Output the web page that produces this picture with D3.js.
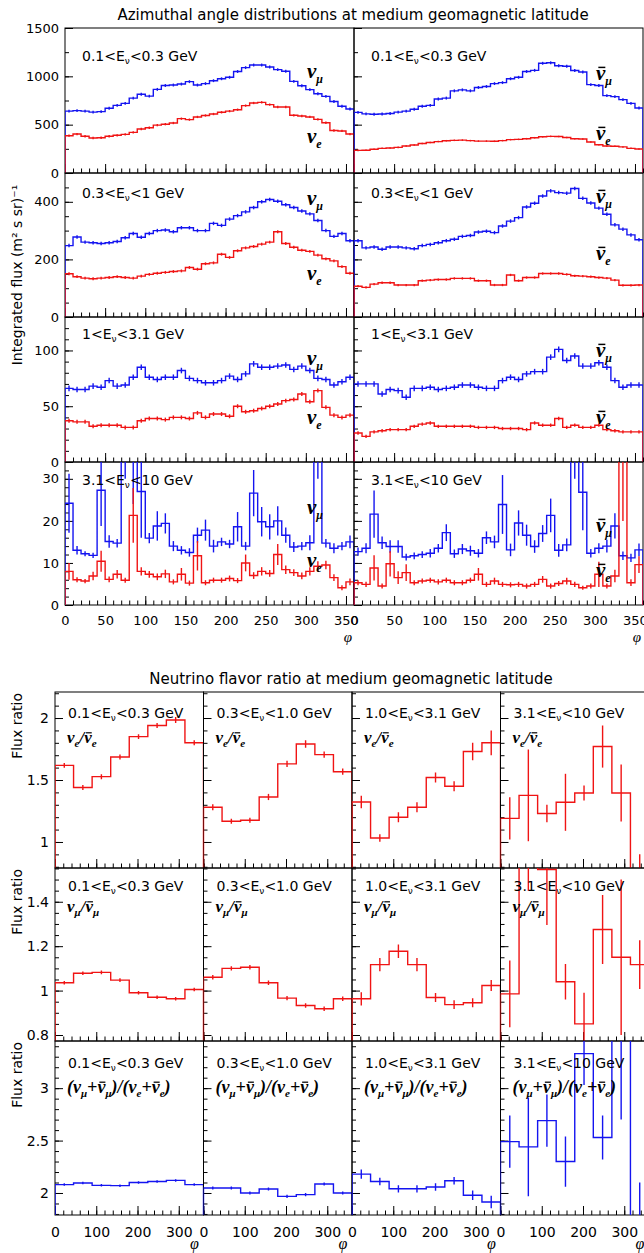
<!DOCTYPE html>
<html>
<head>
<meta charset="utf-8">
<script src="https://cdn.jsdelivr.net/npm/d3@7"></script>
<style>
  body { margin: 0; background: #fff; }
  svg { display: block; }
  text { font-family: "DejaVu Sans", sans-serif; fill: #000; }
  .axis text { font-size: 13px; }
  .axisB text { font-size: 14px; }
  .greek { font-family: "Liberation Serif", "DejaVu Serif", serif; font-style: italic; font-weight: bold; }
</style>
</head>
<body>
<svg id="chart" width="644" height="1253"></svg>
<script>
// ---------------- data: azimuthal flux histograms (10 degree bins) ----------------
const phiEdgesFlux = d3.range(0, 361, 10);
const fluxEnergy = [["0.1", "0.3"], ["0.3", "1"], ["1", "3.1"], ["3.1", "10"]];
const fluxMax = [1500, 500, 130, 34];
const fluxTicks = [[0, 500, 1000, 1500], [0, 200, 400], [0, 50, 100], [0, 10, 20, 30]];
const fluxMinorStep = [250, 50, 10, 2];
const phiTicksFlux = [0, 50, 100, 150, 200, 250, 300, 350];

// 0.1 < E < 0.3 GeV
const numu01  = [640,645,640,630,635,670,700,720,775,815,795,865,905,910,920,945,910,925,955,975,990,1050,1090,1117,1117,1096,1069,1052,948,903,862,820,793,740,690,662];
const nue01   = [386,403,380,362,365,380,390,400,420,455,468,495,505,517,562,552,580,595,610,628,640,655,697,724,731,707,683,683,597,590,580,555,520,440,435,403];
const anumu01 = [627,612,608,610,615,630,640,660,690,700,765,775,850,860,850,885,895,925,935,975,990,1050,1062,1135,1140,1110,1105,1060,1045,914,905,800,790,759,720,672];
const anue01  = [234,236,245,255,259,265,280,290,305,315,325,334,338,340,335,330,330,328,335,345,348,355,365,375,379,378,368,355,352,320,293,280,276,270,255,248];
// 0.3 < E < 1 GeV
const numu03  = [248,278,260,258,255,258,262,275,290,277,290,300,302,296,310,310,300,300,325,318,340,352,365,380,400,408,402,390,380,368,358,335,300,280,290,265];
const nue03   = [150,140,135,133,135,137,140,137,135,142,148,152,155,158,160,172,166,185,188,218,207,230,240,245,253,260,296,255,242,232,228,215,202,195,175,152];
const anumu03 = [265,240,243,235,243,243,240,237,248,252,258,265,270,280,283,295,298,293,316,333,345,382,395,420,438,432,430,446,412,396,378,357,320,305,285,268];
const anue03  = [107,103,114,119,119,111,111,111,126,128,130,130,134,134,134,126,126,111,111,146,126,137,137,151,151,151,148,143,142,140,137,135,128,110,110,111];
// 1 < E < 3.1 GeV
const numu1   = [66,65,65,68,67,73,68,69,76,85,76,74,76,76,82,75,73,71,71,73,77,74,79,88,85,85,86,87,83,86,82,75,74,69,72,76];
const nue1    = [37,36,36,32,33,33,33,31,31,37,39,39,38,40,40,39,44,40,43,43,41,50,45,46,48,50,52,55,56,61,54,64,49,42,40,42];
const anumu1  = [70,70,70,61,65,64,58,66,66,67,65,66,67,69,69,67,66,66,73,76,74,79,81,81,94,101,91,95,86,86,89,85,73,67,69,69];
const anue1   = [26,23,27,28,29,29,29,32,34,35,32,32,32,32,32,31,31,31,30,30,30,29,35,33,33,39,31,33,31,31,33,29,28,27,27,27];
// 3.1 < E < 10 GeV
const numu31  = [24.2,13,12.2,11.8,27.3,15.1,14.7,42,40,27,15.9,18.8,19.4,14,13,12.5,16.6,17.8,14,15,14.5,18.6,14,26.6,19.8,18.6,20,16.6,13.8,14,14.8,45,14.7,13.5,14,15];
const nue31   = [8,6,5.7,6.9,10.4,6.1,7.3,5.9,21.3,8,7.3,6.7,7.4,5.5,7.3,5.2,11.7,5.3,5.9,5.9,6.3,5.8,10,7,8,7.5,12,8.4,7.7,6.9,8,9.2,9.5,6.5,4.1,5.5];
const anumu31 = [12.7,13.5,21.6,14.8,13.9,13.9,11.4,11.7,12,12.3,13.5,17.2,12.2,13.3,12.9,12.3,16,15,23.9,13.1,19.5,16.6,13.9,17,21.3,13,14.3,45,26.8,12.3,13.5,14,18.8,11.7,11.2,13.1];
const anue31  = [5.3,4.9,8.8,4.5,9.8,6.5,7.7,5.3,5.7,5.9,5.5,5.9,5.3,5.3,5.9,7.3,4.9,5.7,4.9,4.8,4.9,4.5,4.9,6.1,4.5,5.1,5.7,4.9,4.1,4.5,7.3,4.5,6.9,40,5.3,9.6];
const numu31Err  = [7,1,0.6,0.6,8.5,1.5,1,12,16,11,1.2,3.5,2.4,1.2,1,1,1.8,2.5,1.5,1,1,3.5,1,5.5,3.5,3,3.5,1.8,1.2,1,1.8,15,1,1.2,1,1.5];
const nue31Err   = [2,0.6,0.5,1,2.5,0.7,1,0.6,6.5,1,0.8,0.8,1,0.6,1.5,0.6,3.5,0.6,0.6,0.6,0.7,0.6,2,0.8,1,0.8,2.5,1,0.8,0.8,1,1.2,1,0.8,0.6,0.8];
const anumu31Err = [1,1.2,5.6,1.5,1.5,1.5,0.8,0.8,0.8,1,1,2,1,1.2,1.2,1,1.5,1.5,7,1.5,3,2.5,1.5,2,4,1.5,1.5,15,9,1,1.2,1.5,3,1,1,1.5];
const anue31Err  = [0.6,0.6,3,0.6,3,1.5,2,0.6,0.6,0.6,0.6,0.6,0.6,0.6,0.6,1.5,0.6,0.8,0.6,0.6,0.6,0.6,0.6,0.8,0.6,0.6,0.8,0.6,0.5,0.6,3,0.6,1.5,20,0.8,2];
// typical statistical error per panel in the three lower-energy rows: [numu, nue, anumu, anue]
const fluxErrTypical = [[15, 12, 15, 8], [6, 5, 6, 4], [2.5, 1.8, 2.5, 1.5]];

// ---------------- data: flavour ratios (45 degree bins) ----------------
const phiEdgesRatio = d3.range(0, 361, 45);
const ratioEnergy = [["0.1", "0.3"], ["0.3", "1.0"], ["1.0", "3.1"], ["3.1", "10"]];
const ratioDomain = [[0.79, 2.21], [0.773, 1.552], [1.79, 3.45]];
const ratioTicks = [[1, 1.5, 2], [0.8, 1, 1.2, 1.4], [2, 2.5, 3]];
const ratioMinorStep = [0.1, 0.05, 0.1];
const phiTicksRatio = [0, 100, 200, 300];

const eeRatio01 = [1.618,1.44,1.527,1.685,1.85,1.94,1.984,1.80];
const eeRatio03 = [1.28,1.167,1.175,1.363,1.63,1.79,1.705,1.567];
const eeRatio1  = [1.323,1.032,1.2,1.28,1.52,1.45,1.73,1.80];
const eeRatio31 = [1.19,1.376,1.23,1.32,1.395,1.77,1.395,0.6];
const eeErr01 = [0.02,0.02,0.02,0.02,0.02,0.02,0.025,0.02];
const eeErr03 = [0.025,0.02,0.02,0.025,0.025,0.03,0.025,0.025];
const eeErr1  = [0.05,0.03,0.04,0.04,0.04,0.04,0.07,0.1];
const eeErr31 = [0.17,0.37,0.07,0.23,0.06,0.17,0.23,0.3];

const mmRatio01 = [1.035,1.078,1.082,1.047,0.99,0.97,0.963,1.005];
const mmRatio03 = [1.06,1.10,1.105,1.035,0.966,0.933,0.918,0.963];
const mmRatio1  = [0.963,1.117,1.177,1.117,0.969,0.937,0.945,1.023];
const mmRatio31 = [0.985,1.75,1.545,1.04,0.85,1.275,1.15,1.117];
const mmErr01 = [0.008,0.008,0.008,0.008,0.008,0.008,0.008,0.008];
const mmErr03 = [0.01,0.01,0.01,0.01,0.01,0.01,0.01,0.01];
const mmErr1  = [0.03,0.03,0.03,0.03,0.02,0.02,0.02,0.025];
const mmErr31 = [0.15,0.3,0.25,0.08,0.14,0.155,0.35,0.11];

const mixRatio01 = [2.08,2.095,2.073,2.07,2.10,2.11,2.12,2.08];
const mixRatio03 = [2.048,2.048,2.0,2.038,1.968,1.984,2.086,2.0];
const mixRatio1  = [2.18,2.11,2.04,2.04,2.057,2.117,1.978,1.914];
const mixRatio31 = [2.49,2.44,2.69,2.30,3.33,2.53,3.7,1.5];
const mixErr01 = [0.012,0.012,0.012,0.012,0.012,0.012,0.012,0.012];
const mixErr03 = [0.015,0.015,0.015,0.015,0.015,0.015,0.015,0.015];
const mixErr1  = [0.045,0.035,0.035,0.035,0.035,0.035,0.045,0.06];
const mixErr31 = [0.25,0.47,0.25,0.24,0.3,0.21,1.0,0.6];

// ---------------- styling / layout ----------------
const BLUE = "#1414f0", RED = "#f01414";
const svg = d3.select("#chart");
let clipId = 0;

// Text built from plain and subscript runs; runs flagged "bar" get an overbar (antineutrino).
function richText(g, x, y, segs, o) {
  const t = g.append("text").attr("x", x).attr("y", y).attr("class", o.cls || null);
  let shift = 0, idx = 0;
  const bars = [];
  segs.forEach(s => {
    const target = s.sub ? o.subDy : 0;
    t.append("tspan").attr("dy", target - shift)
      .style("font-size", (s.sub ? o.subSize : o.size) + "px").text(s.t);
    if (s.bar) bars.push(idx);
    idx += s.t.length;
    shift = target;
  });
  const node = t.node();
  bars.forEach(i => {
    const ext = node.getExtentOfChar(i);
    const yb = y - o.size * 0.6;
    g.append("line")
      .attr("x1", ext.x + ext.width * 0.25).attr("x2", ext.x + ext.width * 0.25 + ext.width * 0.75)
      .attr("y1", yb).attr("y2", yb)
      .attr("stroke", "#000").attr("stroke-width", Math.max(1.2, o.size * 0.07));
  });
  return t;
}
function energySegs(lo, hi) {
  return [{t: lo + "<E"}, {t: "ν", sub: true}, {t: "<" + hi + " GeV"}];
}

function histogram(g, xs, ys, edges, vals, errs, colour) {
  const pts = [[edges[0], 0]];
  vals.forEach((v, i) => { pts.push([edges[i], v]); pts.push([edges[i + 1], v]); });
  pts.push([edges[edges.length - 1], 0]);
  g.append("path")
    .attr("d", d3.line().x(d => xs(d[0])).y(d => ys(d[1]))(pts))
    .attr("fill", "none").attr("stroke", colour).attr("stroke-width", 1.4);
  g.selectAll(null).data(vals).enter().append("line")
    .attr("x1", (d, i) => xs((edges[i] + edges[i + 1]) / 2))
    .attr("x2", (d, i) => xs((edges[i] + edges[i + 1]) / 2))
    .attr("y1", (d, i) => ys(d - errs[i]))
    .attr("y2", (d, i) => ys(d + errs[i]))
    .attr("stroke", colour).attr("stroke-width", 1.4);
}

function clipped(g, x, y, w, h) {
  const id = "clip" + (clipId++);
  svg.append("clipPath").attr("id", id).append("rect")
    .attr("x", x).attr("y", y).attr("width", w).attr("height", h);
  return g.append("g").attr("clip-path", `url(#${id})`);
}

function minorTicks(lo, hi, step) {
  const out = [];
  for (let k = Math.ceil(lo / step - 1e-9); k * step <= hi + 1e-9; k++) out.push(+(k * step).toFixed(6));
  return out;
}

function yAxis(g, ys, x, major, minor, showLabels, cls) {
  const a = g.append("g").attr("class", cls).attr("color", "#000").attr("transform", `translate(${x},0)`)
    .call(d3.axisLeft(ys).tickValues(major).tickSizeInner(-8).tickSizeOuter(0).tickPadding(6)
      .tickFormat(showLabels ? d => String(d) : ""));
  a.select(".domain").remove();
  const m = g.append("g").attr("color", "#000").attr("transform", `translate(${x},0)`)
    .call(d3.axisLeft(ys).tickValues(minor).tickSizeInner(-4).tickSizeOuter(0).tickFormat(""));
  m.select(".domain").remove();
}
function xAxis(g, xs, y, major, minor, showLabels, cls, pad) {
  const a = g.append("g").attr("class", cls).attr("color", "#000").attr("transform", `translate(0,${y})`)
    .call(d3.axisBottom(xs).tickValues(major).tickSizeInner(-9).tickSizeOuter(0).tickPadding(pad)
      .tickFormat(showLabels ? d => String(d) : ""));
  a.select(".domain").remove();
  const m = g.append("g").attr("color", "#000").attr("transform", `translate(0,${y})`)
    .call(d3.axisBottom(xs).tickValues(minor).tickSizeInner(-4.5).tickSizeOuter(0).tickFormat(""));
  m.select(".domain").remove();
}

// ================= upper figure: azimuthal flux =================
const FX0 = 65, FW = 289, FROWS = [28, 173, 317, 462, 605];
const fluxSeries = [
  [[numu01, nue01], [anumu01, anue01]],
  [[numu03, nue03], [anumu03, anue03]],
  [[numu1, nue1], [anumu1, anue1]],
  [[numu31, nue31], [anumu31, anue31]]
];
const fluxErrRow4 = [[numu31Err, nue31Err], [anumu31Err, anue31Err]];
// flavour tag placement inside each panel: [row][col] -> [muBaseline, eBaseline] below the panel top
const tagY = [[[50, 115], [52, 112]], [[32, 107], [30, 87]], [[48, 107], [40, 107]], [[52, 105], [70, 115]]];
const energyY = [33, 25, 22, 23];

svg.append("text").attr("x", 353).attr("y", 20).attr("text-anchor", "middle")
  .style("font-size", "15px").text("Azimuthal angle distributions at medium geomagnetic latitude");

svg.append("text").attr("transform", "translate(22,275) rotate(-90)").attr("text-anchor", "middle")
  .style("font-size", "14px").text("Integrated flux (m² s sr)⁻¹");

fluxSeries.forEach((rowData, r) => {
  const y0 = FROWS[r], y1 = FROWS[r + 1];
  const ys = d3.scaleLinear().domain([0, fluxMax[r]]).range([y1, y0]);
  rowData.forEach((pair, c) => {
    const x0 = FX0 + c * FW;
    const xs = d3.scaleLinear().domain([0, 360]).range([x0, x0 + FW]);
    const g = svg.append("g");
    g.append("rect").attr("x", x0).attr("y", y0).attr("width", FW).attr("height", y1 - y0)
      .attr("fill", "none").attr("stroke", "#000").attr("stroke-width", 1);
    yAxis(g, ys, x0, fluxTicks[r], minorTicks(0, fluxMax[r], fluxMinorStep[r]), c === 0, "axis");
    xAxis(g, xs, y1, phiTicksFlux, minorTicks(0, 360, 10), r === 3, "axis", 11);

    const inner = clipped(g, x0, y0, FW, y1 - y0);
    const errMu = r === 3 ? fluxErrRow4[c][0] : pair[0].map(() => fluxErrTypical[r][c * 2]);
    const errE = r === 3 ? fluxErrRow4[c][1] : pair[1].map(() => fluxErrTypical[r][c * 2 + 1]);
    histogram(inner, xs, ys, phiEdgesFlux, pair[0], errMu, BLUE);
    histogram(inner, xs, ys, phiEdgesFlux, pair[1], errE, RED);

    richText(g, x0 + 17, y0 + energyY[r], energySegs(fluxEnergy[r][0], fluxEnergy[r][1]),
      {size: 14, subSize: 9, subDy: 3});
    const anti = c === 1;
    richText(g, x0 + 242, y0 + tagY[r][c][0], [{t: "ν", bar: anti}, {t: "μ", sub: true}],
      {cls: "greek", size: 21, subSize: 12, subDy: 5});
    richText(g, x0 + 242, y0 + tagY[r][c][1], [{t: "ν", bar: anti}, {t: "e", sub: true}],
      {cls: "greek", size: 21, subSize: 12, subDy: 5});
    if (r === 3) {
      g.append("text").attr("class", "greek").attr("x", x0 + FW - 6).attr("y", 642)
        .attr("text-anchor", "middle").style("font-size", "15px").style("font-weight", "normal").text("φ");
    }
  });
});

// ================= lower figure: flavour ratios =================
const RX0 = 55, RW = 148.5, RROWS = [692, 868, 1041, 1215];
const ratioRows = [
  {vals: [eeRatio01, eeRatio03, eeRatio1, eeRatio31], errs: [eeErr01, eeErr03, eeErr1, eeErr31], colour: RED,
   label: [{t: "ν"}, {t: "e", sub: true}, {t: "/"}, {t: "ν", bar: true}, {t: "e", sub: true}], labelY: 51, labelSize: 17},
  {vals: [mmRatio01, mmRatio03, mmRatio1, mmRatio31], errs: [mmErr01, mmErr03, mmErr1, mmErr31], colour: RED,
   label: [{t: "ν"}, {t: "μ", sub: true}, {t: "/"}, {t: "ν", bar: true}, {t: "μ", sub: true}], labelY: 44, labelSize: 17},
  {vals: [mixRatio01, mixRatio03, mixRatio1, mixRatio31], errs: [mixErr01, mixErr03, mixErr1, mixErr31], colour: BLUE,
   label: [{t: "(ν"}, {t: "μ", sub: true}, {t: "+"}, {t: "ν", bar: true}, {t: "μ", sub: true}, {t: ")/(ν"},
           {t: "e", sub: true}, {t: "+"}, {t: "ν", bar: true}, {t: "e", sub: true}, {t: ")"}], labelY: 52, labelSize: 18}
];
const ratioEnergyY = [26, 23, 27];

svg.append("text").attr("x", 351).attr("y", 684).attr("text-anchor", "middle")
  .style("font-size", "15px").text("Neutrino flavor ratio at medium geomagnetic latitude");

ratioRows.forEach((row, r) => {
  const y0 = RROWS[r], y1 = RROWS[r + 1];
  const ys = d3.scaleLinear().domain(ratioDomain[r]).range([y1, y0]);
  svg.append("text").attr("transform", `translate(22,${y0 + 1}) rotate(-90)`).attr("text-anchor", "end")
    .style("font-size", "14px").text("Flux ratio");
  row.vals.forEach((vals, c) => {
    const x0 = RX0 + c * RW;
    const xs = d3.scaleLinear().domain([0, 360]).range([x0, x0 + RW]);
    const g = svg.append("g");
    g.append("rect").attr("x", x0).attr("y", y0).attr("width", RW).attr("height", y1 - y0)
      .attr("fill", "none").attr("stroke", "#000").attr("stroke-width", 1);
    yAxis(g, ys, x0, ratioTicks[r], minorTicks(ratioDomain[r][0], ratioDomain[r][1], ratioMinorStep[r]), c === 0, "axisB");
    xAxis(g, xs, y1, phiTicksRatio, minorTicks(0, 360, 20), r === 2, "axisB", 12);

    const inner = clipped(g, x0, y0, RW, y1 - y0);
    histogram(inner, xs, ys, phiEdgesRatio, vals, row.errs[c], row.colour);

    richText(g, x0 + 13, y0 + ratioEnergyY[r], energySegs(ratioEnergy[c][0], ratioEnergy[c][1]),
      {size: 14, subSize: 9, subDy: 3});
    richText(g, x0 + 12, y0 + row.labelY, row.label,
      {cls: "greek", size: row.labelSize, subSize: 11, subDy: 4});
    if (r === 2) {
      g.append("text").attr("class", "greek").attr("x", x0 + RW - 9).attr("y", 1249)
        .attr("text-anchor", "middle").style("font-size", "16px").style("font-weight", "normal").text("φ");
    }
  });
});
</script>
</body>
</html>
